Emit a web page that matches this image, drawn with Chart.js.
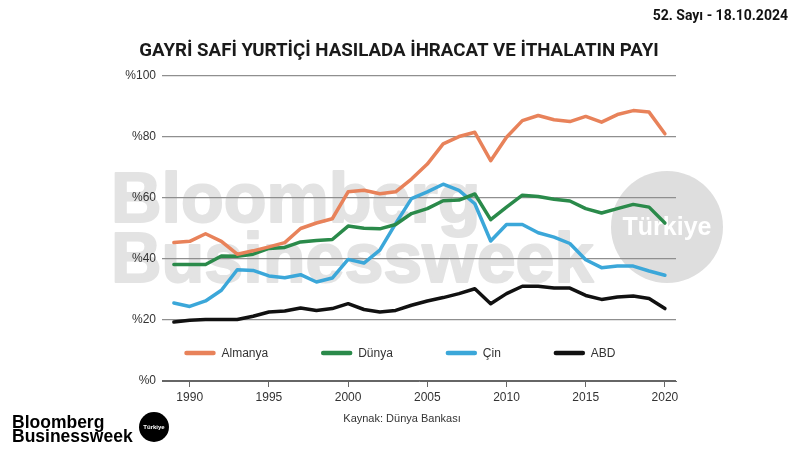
<!DOCTYPE html>
<html>
<head>
<meta charset="utf-8">
<script src="https://cdn.jsdelivr.net/npm/chart.js@4.4.0/dist/chart.umd.min.js"></script>
<style>
  html, body { margin: 0; padding: 0; background: #fff; }
  #wrap { width: 800px; height: 450px; position: relative; }
</style>
</head>
<body>
<div id="wrap"><canvas id="chart" width="800" height="450"></canvas></div>
<script>
const years = [1989, 1990, 1991, 1992, 1993, 1994, 1995, 1996, 1997, 1998, 1999, 2000,
  2001, 2002, 2003, 2004, 2005, 2006, 2007, 2008, 2009, 2010, 2011, 2012,
  2013, 2014, 2015, 2016, 2017, 2018, 2019, 2020];

const almanya = [45.3, 45.7, 48.2, 45.7, 41.5, 42.6, 43.9, 45.3, 49.9, 51.7, 53.1, 61.9,
  62.4, 61.3, 61.9, 66.1, 71.0, 77.6, 80.0, 81.4, 72.1, 79.8, 85.2, 86.9,
  85.5, 84.9, 86.6, 84.7, 87.2, 88.5, 88.0, 80.9];
const dunya = [38.1, 38.1, 38.1, 40.9, 40.8, 41.5, 43.4, 43.7, 45.5, 46.0, 46.3, 50.7,
  50.0, 49.8, 51.2, 54.8, 56.4, 59.0, 59.2, 61.2, 52.8, 56.9, 60.8, 60.4,
  59.5, 58.9, 56.4, 55.0, 56.4, 57.8, 56.9, 51.7];
const cin = [25.5, 24.4, 26.2, 29.7, 36.4, 36.2, 34.4, 33.8, 34.8, 32.4, 33.7, 39.8,
  38.6, 42.8, 51.5, 59.7, 61.9, 64.4, 62.4, 58.0, 45.8, 51.2, 51.2, 48.5,
  47.1, 45.0, 39.7, 37.1, 37.6, 37.6, 36.0, 34.6];
const abd = [19.3, 19.9, 20.1, 20.1, 20.1, 21.2, 22.6, 22.9, 23.9, 23.1, 23.7, 25.3,
  23.4, 22.6, 23.1, 24.8, 26.2, 27.3, 28.6, 30.2, 25.3, 28.6, 31.0, 31.0,
  30.4, 30.4, 28.0, 26.7, 27.5, 27.8, 27.0, 23.7];

const seriesNames = ['Almanya', 'Dünya', 'Çin', 'ABD'];
const seriesColors = ['#e8825a', '#2a8a4a', '#3ba7d9', '#111111'];
const xTickYears = [1990, 1995, 2000, 2005, 2010, 2015, 2020];
const yTickValues = [0, 20, 40, 60, 80, 100];

const titleText = 'GAYRİ SAFİ YURTİÇİ HASILADA İHRACAT VE İTHALATIN PAYI';
const issueText = '52. Sayı - 18.10.2024';
const sourceText = 'Kaynak: Dünya Bankası';

const toPoints = (vals) => vals.map((v, i) => ({ x: years[i], y: v }));

// watermark behind the grid
const watermark = {
  id: 'watermark',
  beforeDraw(chart) {
    const ctx = chart.ctx;
    ctx.save();
    ctx.fillStyle = '#e3e3e3';
    ctx.strokeStyle = '#e3e3e3';
    ctx.lineWidth = 2;
    ctx.lineJoin = 'round';
    ctx.font = 'bold 70px "Liberation Sans"';
    ctx.textAlign = 'left';
    ctx.textBaseline = 'alphabetic';
    ctx.fillText('Bloomberg', 111, 222);
    ctx.strokeText('Bloomberg', 111, 222);
    ctx.fillText('Businessweek', 111, 282);
    ctx.strokeText('Businessweek', 111, 282);
    ctx.fillStyle = '#dedede';
    ctx.beginPath();
    ctx.arc(667, 227, 56, 0, Math.PI * 2);
    ctx.fill();
    ctx.fillStyle = '#ffffff';
    ctx.font = 'bold 25px "Liberation Sans"';
    ctx.textAlign = 'center';
    ctx.textBaseline = 'middle';
    ctx.fillText('Türkiye', 667, 228);
    ctx.restore();
  }
};

// legend inside the plot + extra texts
const extras = {
  id: 'extras',
  afterDraw(chart) {
    const ctx = chart.ctx;
    const area = chart.chartArea;
    ctx.save();

    // legend
    ctx.font = '12px "Liberation Sans"';
    const lineW = 31, gap = 6, spacing = 53;
    const items = chart.data.datasets.map(d => ({
      label: d.label, color: d.borderColor, w: lineW + gap + ctx.measureText(d.label).width
    }));
    const total = items.reduce((s, it) => s + it.w, 0) + spacing * (items.length - 1);
    let x = chart.width / 2 - total / 2;
    const ly = area.bottom - 28;
    items.forEach(it => {
      ctx.strokeStyle = it.color;
      ctx.lineWidth = 4.5;
      ctx.lineCap = 'round';
      ctx.beginPath();
      ctx.moveTo(x + 2, ly);
      ctx.lineTo(x + lineW - 2, ly);
      ctx.stroke();
      ctx.fillStyle = '#333';
      ctx.textAlign = 'left';
      ctx.textBaseline = 'middle';
      ctx.fillText(it.label, x + lineW + gap, ly + 1);
      x += it.w + spacing;
    });

    // issue / date
    ctx.fillStyle = '#111';
    ctx.font = 'bold 14px Roboto';
    ctx.textAlign = 'right';
    ctx.textBaseline = 'middle';
    ctx.fillText(issueText, 788, 16);

    // source
    ctx.fillStyle = '#333';
    ctx.font = '11px "Liberation Sans"';
    ctx.textAlign = 'center';
    ctx.fillText(sourceText, 402, 419);

    // logo
    ctx.fillStyle = '#000';
    ctx.font = 'bold 17.5px "Liberation Sans"';
    ctx.textAlign = 'left';
    ctx.textBaseline = 'alphabetic';
    ctx.fillText('Bloomberg', 12, 428);
    ctx.fillText('Businessweek', 12, 442);
    ctx.beginPath();
    ctx.arc(154, 427, 15, 0, Math.PI * 2);
    ctx.fill();
    ctx.fillStyle = '#fff';
    ctx.font = 'bold 6px "Liberation Sans"';
    ctx.textAlign = 'center';
    ctx.textBaseline = 'middle';
    ctx.fillText('Türkiye', 154, 427);

    ctx.restore();
  }
};

const ctx = document.getElementById('chart');
new Chart(ctx, {
  type: 'line',
  data: {
    datasets: [
      { label: seriesNames[0], data: toPoints(almanya), borderColor: seriesColors[0] },
      { label: seriesNames[1], data: toPoints(dunya), borderColor: seriesColors[1] },
      { label: seriesNames[2], data: toPoints(cin), borderColor: seriesColors[2] },
      { label: seriesNames[3], data: toPoints(abd), borderColor: seriesColors[3] },
    ],
  },
  options: {
    responsive: false,
    animation: false,
    devicePixelRatio: 1,
    layout: { padding: { left: 122, right: 124, top: 0, bottom: 45 } },
    elements: {
      point: { radius: 0 },
      line: { borderWidth: 3.5, tension: 0, borderJoinStyle: 'round', borderCapStyle: 'round' },
    },
    plugins: {
      legend: { display: false },
      tooltip: { enabled: false },
      title: {
        display: true,
        text: titleText,
        color: '#1a1a1a',
        font: { family: 'Roboto', size: 18.7, weight: 'bold' },
        padding: { top: 40, bottom: 13 },
      },
    },
    scales: {
      x: {
        type: 'linear',
        min: 1988.25,
        max: 2020.7,
        afterBuildTicks: (scale) => { scale.ticks = xTickYears.map(v => ({ value: v })); },
        afterFit: (scale) => { scale.height = 24; },
        grid: { drawOnChartArea: false, drawTicks: true, tickLength: 6, color: '#666', lineWidth: 1 },
        border: { display: true, color: '#666', width: 1 },
        ticks: {
          autoSkip: false,
          maxRotation: 0,
          padding: 3,
          color: '#333',
          font: { family: 'Liberation Sans', size: 12 },
          callback: (v) => String(v),
        },
      },
      y: {
        min: 0,
        max: 100,
        afterBuildTicks: (scale) => { scale.ticks = yTickValues.map(v => ({ value: v })); },
        afterFit: (scale) => { scale.width = 40; },
        grid: {
          drawTicks: false,
          color: (c) => c.tick && c.tick.value === 0 ? '#666' : '#8f8f8f',
          lineWidth: 1.2,
        },
        border: { display: false },
        ticks: {
          padding: 6,
          color: '#333',
          font: { family: 'Liberation Sans', size: 12 },
          callback: (v) => '%' + v,
        },
      },
    },
  },
  plugins: [watermark, extras],
});
</script>
</body>
</html>
